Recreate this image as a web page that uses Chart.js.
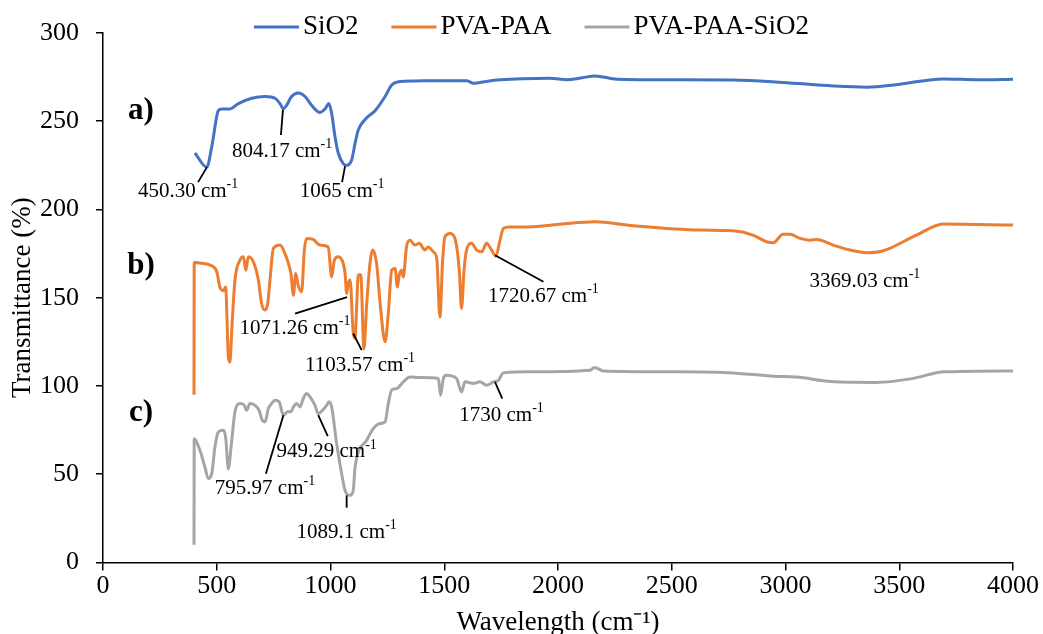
<!DOCTYPE html>
<html lang="en">
    <head>
        <meta charset="utf-8" />
        <script src="https://cdn.jsdelivr.net/npm/chart.js@4.4.1/dist/chart.umd.min.js"></script>
        <title>FTIR</title>
        <style>
            html, body { margin: 0; padding: 0; background: #fff; overflow: hidden; }
            #box { width: 1043px; height: 639px; }
        </style>
    </head>
    <body>
        <div id="box"><canvas id="grafico"></canvas></div>
        <script>
            // SiO2 spectrum (wavenumber, transmittance)
            const sio2Wave = [404, 456, 478, 507, 522, 558, 595, 654, 712, 756,
                778, 793, 807, 829, 859, 888, 917, 954, 976, 993,
                1005, 1020, 1034, 1056, 1071, 1093, 1108, 1122, 1152, 1196,
                1240, 1269, 1298, 1371, 1500, 1600, 1628, 1657, 1745, 1965,
                2040, 2100, 2163, 2259, 2500, 2769, 2989, 3209, 3358, 3503,
                3692, 3850, 4000];
            const sio2T = [232, 224, 235.5, 256, 257, 257, 260, 263, 264, 263,
                260, 257, 259, 264, 266, 264, 259, 255, 257, 260,
                254.5, 241, 232, 226, 225, 228, 237.5, 245, 251, 256,
                264, 270.6, 272.4, 272.8, 273, 273, 271.5, 272, 273.5, 274.4,
                273.5, 274.5, 275.7, 273.8, 273.5, 273.4, 272, 270, 269.3, 271,
                274, 273.5, 273.8];

            // PVA-PAA spectrum
            const pvaWave = [400, 401, 441, 470, 500, 514, 529, 539, 551, 558,
                566, 580, 602, 617, 628, 639, 661, 683, 697, 712,
                724, 734, 749, 778, 800, 815, 826, 837, 847, 858,
                873, 885, 895, 924, 954, 990, 1005, 1017, 1034, 1056,
                1064, 1071, 1078, 1086, 1100, 1108, 1115, 1122, 1133, 1147,
                1159, 1174, 1185, 1203, 1218, 1240, 1254, 1269, 1284, 1294,
                1302, 1313, 1320, 1334, 1349, 1371, 1390, 1415, 1430, 1452,
                1467, 1481, 1493, 1503, 1525, 1547, 1566, 1576, 1587, 1598,
                1620, 1642, 1665, 1686, 1708, 1727, 1745, 1760, 1789, 1891,
                2016, 2163, 2330, 2624, 2769, 2857, 2917, 2946, 2989, 3020,
                3064, 3108, 3137, 3210, 3283, 3357, 3430, 3576, 3694, 4000];
            const pvaT = [95, 170, 169.4, 168.5, 164.7, 156, 154, 156, 116.5, 113.5,
                131.6, 160, 171.3, 173.2, 165.6, 173.2, 170.3, 160, 146.7, 143,
                146.7, 160, 178, 179.8, 175, 169.4, 163.7, 151.4, 163.7, 157,
                153.3, 177, 183.6, 183, 179.8, 178.8, 161.8, 171.3, 173.2, 169.4,
                163.8, 152.4, 158, 160, 130, 127, 145, 163, 163, 121,
                146, 170, 177, 169, 147, 125, 141, 165.6, 166.6, 156,
                162.8, 165.6, 161.8, 178.8, 182.6, 179.8, 180.8, 177, 178.8, 176,
                172.3, 139, 171.3, 184.5, 186.4, 183.6, 165.6, 143.9, 165.6, 177,
                180.8, 177, 176, 180.8, 177, 173.5, 182.6, 189.3, 190, 190.2,
                191.7, 193, 190.8, 188.3, 187.9, 185.5, 181.7, 181.1, 186, 186,
                183.6, 182.6, 183, 179.8, 177, 175.5, 176.6, 185.5, 191.7, 191.2];

            // PVA-PAA-SiO2 spectrum
            const compWave = [400, 401, 426, 448, 463, 478, 492, 507, 529, 539,
                551, 563, 580, 602, 621, 631, 646, 668, 686, 700,
                712, 727, 741, 756, 774, 793, 811, 826, 837, 851,
                866, 880, 895, 910, 932, 946, 965, 983, 993, 1005,
                1027, 1049, 1064, 1086, 1100, 1108, 1159, 1188, 1218, 1240,
                1254, 1269, 1291, 1320, 1349, 1393, 1474, 1484, 1496, 1510,
                1554, 1576, 1591, 1628, 1657, 1686, 1716, 1738, 1760, 1877,
                2141, 2160, 2200, 2500, 2750, 2950, 3050, 3200, 3400, 3550,
                3700, 4000];
            const compT = [10, 70, 63.5, 54, 47.5, 50.3, 65.4, 73.9, 74.9, 71,
                53.1, 65.4, 85.3, 90, 89, 86.2, 90, 89, 86.2, 80.5,
                79.6, 87.2, 90, 91.9, 91, 83.4, 85.3, 85.3, 88.1, 90,
                88.1, 92.8, 95.7, 93.8, 89, 84.3, 86.2, 89, 91, 88.1,
                67.3, 50.3, 40.8, 38, 40.8, 54, 69.2, 75.8, 78.7, 79.6,
                90, 97.6, 98.5, 102.3, 105, 104.8, 104.2, 94.7, 104.2, 106,
                104.2, 96.6, 102.3, 101.4, 102.3, 100.4, 102.3, 103.2, 107.4, 108,
                108.9, 110.5, 108.5, 108, 107.5, 105.5, 105, 102.5, 102, 104,
                108, 108.5];

            // peak labels: text, text centre (x, y), leader line (x1, y1, x2, y2)
            const peakText = ["450.30", "804.17", "1065", "1071.26", "1103.57", "1720.67", "3369.03", "795.97", "949.29", "1089.1", "1730"];
            const peakPos = [[374, 210], [787, 233], [1051, 210], [844, 132.5], [1130, 111.7], [1936, 150.5], [3349, 159.4], [712, 41.8], [983, 62.6], [1071, 17.2], [1752, 83.4]];
            const peakLine = [[457, 224, 418, 215.5], [791, 256.4, 782, 242.2], [1064, 224.6, 1051, 215.5], [844, 141, 1073, 150.3], [1100, 129.7, 1137, 120.3], [1723, 174.1, 1936, 159], null, [793, 83.4, 716, 50.3], [946, 83.4, 988, 71.5], [1071, 38, 1071, 31], [1723, 102.3, 1755, 92.8]];

            // panel letters
            const panelText = ["a)", "b)", "c)"];
            const panelPos = [[167, 256], [167, 168], [167, 84.5]];

            const serie = (xs, ys) => xs.map((x, i) => ({ x: x, y: ys[i] }));
            const serif = "'Liberation Serif', serif";

            const etiquetas = {
                id: "etiquetas",
                afterDatasetsDraw(chart) {
                    const ctx = chart.ctx;
                    const sx = chart.scales.x;
                    const sy = chart.scales.y;
                    ctx.save();
                    ctx.strokeStyle = "#000";
                    ctx.lineWidth = 1.8;
                    peakLine.forEach((l) => {
                        if (!l) return;
                        ctx.beginPath();
                        ctx.moveTo(sx.getPixelForValue(l[0]), sy.getPixelForValue(l[1]));
                        ctx.lineTo(sx.getPixelForValue(l[2]), sy.getPixelForValue(l[3]));
                        ctx.stroke();
                    });
                    ctx.fillStyle = "#000";
                    ctx.textBaseline = "middle";
                    ctx.textAlign = "left";
                    peakText.forEach((t, i) => {
                        const main = t + " cm";
                        ctx.font = "21px " + serif;
                        const w1 = ctx.measureText(main).width;
                        ctx.font = "14px " + serif;
                        const w2 = ctx.measureText("-1").width;
                        const px = sx.getPixelForValue(peakPos[i][0]) - (w1 + w2) / 2;
                        const py = sy.getPixelForValue(peakPos[i][1]);
                        ctx.font = "21px " + serif;
                        ctx.fillText(main, px, py);
                        ctx.font = "14px " + serif;
                        ctx.fillText("-1", px + w1, py - 7);
                    });
                    ctx.font = "bold 31px " + serif;
                    ctx.textAlign = "center";
                    panelText.forEach((t, i) => {
                        ctx.fillText(t, sx.getPixelForValue(panelPos[i][0]), sy.getPixelForValue(panelPos[i][1]));
                    });
                    ctx.restore();
                }
            };

            // legend drawn by hand so its spacing matches the original
            const leyenda = {
                id: "leyenda",
                afterDraw(chart) {
                    const ctx = chart.ctx;
                    const sets = chart.data.datasets;
                    ctx.save();
                    ctx.font = "27px " + serif;
                    const widths = sets.map((d) => ctx.measureText(d.label).width);
                    const total = widths.reduce((a, w) => a + 45 + 4 + w, 0) + 33 * (sets.length - 1);
                    let x = chart.width / 2 + 10 - total / 2;
                    const y = 27;
                    ctx.textBaseline = "middle";
                    ctx.textAlign = "left";
                    sets.forEach((d, i) => {
                        ctx.strokeStyle = d.borderColor;
                        ctx.lineWidth = 3;
                        ctx.beginPath();
                        ctx.moveTo(x, y);
                        ctx.lineTo(x + 45, y);
                        ctx.stroke();
                        ctx.fillStyle = "#000";
                        ctx.fillText(d.label, x + 49, y);
                        x += 49 + widths[i] + 33;
                    });
                    ctx.restore();
                }
            };

            const fuenteTick = { family: serif, size: 26 };
            const fuenteTitulo = { family: serif, size: 27 };

            new Chart(document.getElementById("grafico").getContext("2d"), {
                type: "line",
                data: {
                    datasets: [
                        { label: "SiO2", data: serie(sio2Wave, sio2T), borderColor: "#4472C4", backgroundColor: "#4472C4", borderWidth: 3, pointRadius: 0, cubicInterpolationMode: "monotone" },
                        { label: "PVA-PAA", data: serie(pvaWave, pvaT), borderColor: "#ED7D31", backgroundColor: "#ED7D31", borderWidth: 3, pointRadius: 0, cubicInterpolationMode: "monotone" },
                        { label: "PVA-PAA-SiO2", data: serie(compWave, compT), borderColor: "#A5A5A5", backgroundColor: "#A5A5A5", borderWidth: 3, pointRadius: 0, cubicInterpolationMode: "monotone" }
                    ]
                },
                options: {
                    responsive: true,
                    maintainAspectRatio: false,
                    animation: false,
                    layout: { padding: { left: 3, right: 30, top: 33, bottom: 0 } },
                    plugins: {
                        legend: { display: false },
                        tooltip: { enabled: false }
                    },
                    scales: {
                        x: {
                            type: "linear",
                            min: 0,
                            max: 4000,
                            ticks: { stepSize: 500, font: fuenteTick, color: "#000", padding: 0, callback: (v) => String(v) },
                            grid: { drawOnChartArea: false, color: "#000", tickLength: 8, lineWidth: 1.5 },
                            border: { color: "#000", width: 1.5 },
                            title: { display: true, text: "Wavelength (cm⁻¹)", font: fuenteTitulo, color: "#000", padding: { top: 5, bottom: 0 } }
                        },
                        y: {
                            min: 0,
                            max: 300,
                            afterFit: (scale) => { scale.width = 100; },
                            ticks: { stepSize: 50, font: fuenteTick, color: "#000", padding: 17, callback: (v) => String(v) },
                            grid: { drawOnChartArea: false, color: "#000", tickLength: 7, lineWidth: 1.5 },
                            border: { color: "#000", width: 1.5 },
                            title: { display: true, text: "Transmittance (%)", font: fuenteTitulo, color: "#000", padding: { top: 4, bottom: 0 } }
                        }
                    }
                },
                plugins: [etiquetas, leyenda]
            });
        </script>
    </body>
</html>
